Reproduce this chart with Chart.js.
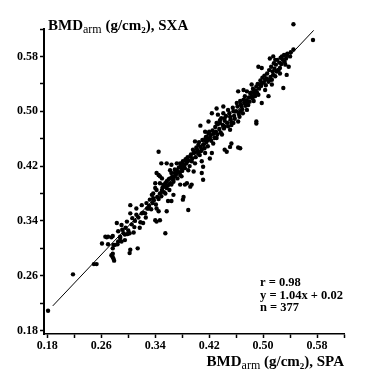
<!DOCTYPE html>
<html>
<head>
<meta charset="utf-8">
<script src="https://cdn.jsdelivr.net/npm/chart.js@4"></script>
<style>
  body { margin: 0; background: #fff; }
  canvas { display: block; }
</style>
</head>
<body>
<canvas id="bmd" width="365" height="384"></canvas>
<script>
(() => {

//----- Data -----//

    // BMD arm measured by SPA (x) and by SXA (y), g/cm2
    var spaArm = [
        0.181, 0.218, 0.249, 0.253, 0.261, 0.266, 0.268, 0.270, 0.270, 0.275,
        0.277, 0.278, 0.277, 0.275, 0.277, 0.277, 0.279, 0.278, 0.280, 0.284,
        0.285, 0.288, 0.288, 0.290, 0.283, 0.290, 0.293, 0.295, 0.295, 0.299,
        0.302, 0.302, 0.303, 0.308, 0.314, 0.303, 0.303, 0.312, 0.320, 0.322,
        0.320, 0.325, 0.330, 0.327, 0.332, 0.335, 0.337, 0.342, 0.345, 0.340,
        0.342, 0.347, 0.357, 0.355, 0.359, 0.364, 0.347, 0.350, 0.345, 0.350,
        0.340, 0.337, 0.352, 0.355, 0.361, 0.364, 0.369, 0.372, 0.379, 0.377,
        0.381, 0.389, 0.364, 0.367, 0.384, 0.382, 0.392, 0.345, 0.349, 0.357,
        0.364, 0.362, 0.372, 0.377, 0.379, 0.372, 0.369, 0.377, 0.384, 0.389,
        0.397, 0.342, 0.347, 0.362, 0.367, 0.355, 0.340, 0.342, 0.350, 0.357,
        0.387, 0.394, 0.382, 0.387, 0.394, 0.392, 0.399, 0.397, 0.402, 0.404,
        0.406, 0.409, 0.409, 0.411, 0.409, 0.411, 0.414, 0.414, 0.419, 0.421,
        0.424, 0.421, 0.426, 0.431, 0.436, 0.439, 0.443, 0.451, 0.456, 0.463,
        0.453, 0.451, 0.466, 0.443, 0.446, 0.407, 0.490, 0.399, 0.414, 0.416,
        0.411, 0.431, 0.436, 0.433, 0.441, 0.443, 0.451, 0.448, 0.456, 0.453,
        0.466, 0.461, 0.466, 0.471, 0.473, 0.481, 0.476, 0.483, 0.488, 0.486,
        0.493, 0.498, 0.508, 0.503, 0.490, 0.498, 0.503, 0.510, 0.513, 0.518,
        0.525, 0.530, 0.463, 0.471, 0.483, 0.490, 0.468, 0.476, 0.478, 0.441,
        0.431, 0.424, 0.419, 0.545, 0.574, 0.540, 0.535, 0.528, 0.515, 0.518,
        0.510, 0.493, 0.498, 0.533, 0.538, 0.525, 0.520, 0.535, 0.515, 0.513,
        0.505, 0.495, 0.486, 0.463,
        0.305, 0.310, 0.315, 0.318, 0.322, 0.326, 0.328, 0.331, 0.334, 0.336,
        0.338, 0.341, 0.343, 0.345, 0.347, 0.349, 0.351, 0.353, 0.355, 0.357,
        0.359, 0.360, 0.362, 0.365, 0.367, 0.369, 0.371, 0.373, 0.375, 0.376,
        0.378, 0.380, 0.381, 0.383, 0.385, 0.386, 0.388, 0.390, 0.391, 0.393,
        0.395, 0.396, 0.398, 0.400, 0.401, 0.403, 0.404, 0.405, 0.407, 0.408,
        0.410, 0.412, 0.413, 0.415, 0.416, 0.418, 0.419, 0.420, 0.422, 0.423,
        0.425, 0.426, 0.428, 0.429, 0.430, 0.432, 0.433, 0.435, 0.437, 0.438,
        0.440, 0.442, 0.443, 0.445, 0.447, 0.448, 0.450, 0.452, 0.453, 0.455,
        0.457, 0.458, 0.460, 0.462, 0.464, 0.465, 0.467, 0.469, 0.470, 0.472,
        0.474, 0.475, 0.477, 0.479, 0.480, 0.482, 0.484, 0.485, 0.487, 0.489,
        0.491, 0.492, 0.494, 0.496, 0.497, 0.499, 0.501, 0.502, 0.504, 0.506,
        0.508, 0.509, 0.511, 0.512, 0.514, 0.516, 0.517, 0.519, 0.521, 0.523,
        0.524, 0.526, 0.527, 0.529, 0.531, 0.532, 0.534, 0.536, 0.541, 0.545,
        0.285, 0.291, 0.296, 0.300, 0.298, 0.306, 0.309, 0.312, 0.317
    ]
    var sxaArm = [
        0.209, 0.262, 0.277, 0.277, 0.307, 0.317, 0.316, 0.317, 0.306, 0.316,
        0.318, 0.305, 0.300, 0.290, 0.292, 0.287, 0.282, 0.285, 0.305, 0.306,
        0.310, 0.317, 0.315, 0.310, 0.337, 0.334, 0.322, 0.320, 0.312, 0.321,
        0.322, 0.293, 0.298, 0.323, 0.300, 0.351, 0.363, 0.358, 0.363, 0.337,
        0.351, 0.351, 0.358, 0.366, 0.371, 0.378, 0.373, 0.358, 0.354, 0.341,
        0.339, 0.341, 0.354, 0.322, 0.369, 0.369, 0.395, 0.385, 0.407, 0.402,
        0.388, 0.380, 0.393, 0.380, 0.385, 0.410, 0.405, 0.412, 0.405, 0.393,
        0.371, 0.356, 0.393, 0.378, 0.393, 0.375, 0.390, 0.441, 0.424, 0.424,
        0.422, 0.414, 0.424, 0.424, 0.417, 0.414, 0.410, 0.407, 0.417, 0.414,
        0.412, 0.410, 0.405, 0.402, 0.397, 0.395, 0.395, 0.385, 0.383, 0.388,
        0.395, 0.393, 0.422, 0.427, 0.427, 0.434, 0.424, 0.439, 0.444, 0.451,
        0.436, 0.444, 0.427, 0.419, 0.410, 0.400, 0.439, 0.458, 0.468, 0.461,
        0.439, 0.431, 0.453, 0.461, 0.483, 0.466, 0.478, 0.473, 0.483, 0.485,
        0.453, 0.448, 0.446, 0.444, 0.441, 0.479, 0.482, 0.456, 0.470, 0.463,
        0.451, 0.483, 0.487, 0.495, 0.497, 0.490, 0.492, 0.502, 0.500, 0.480,
        0.500, 0.512, 0.515, 0.517, 0.522, 0.526, 0.529, 0.522, 0.522, 0.515,
        0.524, 0.512, 0.522, 0.531, 0.536, 0.541, 0.546, 0.546, 0.539, 0.551,
        0.555, 0.534, 0.529, 0.531, 0.539, 0.485, 0.507, 0.502, 0.509, 0.507,
        0.504, 0.497, 0.485, 0.627, 0.604, 0.580, 0.582, 0.580, 0.580, 0.575,
        0.577, 0.565, 0.563, 0.568, 0.565, 0.563, 0.558, 0.553, 0.553, 0.546,
        0.548, 0.539, 0.531, 0.447,
        0.335, 0.340, 0.345, 0.338, 0.352, 0.345, 0.358, 0.362, 0.357, 0.366,
        0.370, 0.364, 0.375, 0.372, 0.380, 0.376, 0.389, 0.382, 0.390, 0.398,
        0.392, 0.401, 0.395, 0.404, 0.400, 0.415, 0.408, 0.402, 0.418, 0.411,
        0.420, 0.413, 0.427, 0.421, 0.430, 0.424, 0.433, 0.428, 0.420, 0.437,
        0.431, 0.444, 0.440, 0.433, 0.447, 0.441, 0.438, 0.455, 0.448, 0.442,
        0.458, 0.452, 0.446, 0.462, 0.455, 0.449, 0.459, 0.470, 0.465, 0.457,
        0.472, 0.467, 0.461, 0.477, 0.470, 0.466, 0.481, 0.474, 0.469, 0.490,
        0.480, 0.475, 0.486, 0.493, 0.483, 0.478, 0.497, 0.488, 0.484, 0.505,
        0.493, 0.489, 0.500, 0.507, 0.496, 0.492, 0.510, 0.503, 0.497, 0.513,
        0.508, 0.516, 0.512, 0.520, 0.514, 0.527, 0.519, 0.533, 0.526, 0.530,
        0.527, 0.540, 0.533, 0.545, 0.537, 0.549, 0.542, 0.552, 0.538, 0.555,
        0.543, 0.560, 0.550, 0.565, 0.558, 0.570, 0.562, 0.568, 0.575, 0.560,
        0.571, 0.578, 0.569, 0.575, 0.582, 0.572, 0.577, 0.584, 0.586, 0.590,
        0.325, 0.327, 0.330, 0.326, 0.339, 0.344, 0.331, 0.349, 0.330
    ]

    // regression line y = 1.04x + 0.02, end points as drawn
    var fitX = [0.188, 0.575]
    var fitY = [0.216, 0.618]

    var tickValues = [0.18, 0.22, 0.26, 0.30, 0.34, 0.38, 0.42, 0.46, 0.50, 0.54, 0.58, 0.62]
    var tickLabels = ['0.18', '0.26', '0.34', '0.42', '0.50', '0.58']

    var statLines = ['r = 0.98', 'y = 1.04x + 0.02', 'n = 377']

//----- Helpers -----//

    var serif = '"Liberation Serif", "DejaVu Serif", serif'

    function toPoints(xs, ys) {
        return xs.map((x, i) => ({ x: x, y: ys[i] }))
    }

    function tickCallback(value) {
        var s = Number(value).toFixed(2)
        return tickLabels.includes(s) ? s : ''
    }

    function fixTicks(axis) {
        axis.ticks = tickValues.map((v) => ({ value: v }))
    }

    // draws a title with subscripts, piece by piece
    function drawRich(ctx, parts, x, y, align) {
        var total = 0
        parts.forEach((p) => {
            ctx.font = p.f
            total += ctx.measureText(p.t).width
        })
        var cx = align === 'right' ? x - total : x
        ctx.textAlign = 'left'
        ctx.textBaseline = 'alphabetic'
        parts.forEach((p) => {
            ctx.font = p.f
            ctx.fillText(p.t, cx, y + (p.dy || 0))
            cx += ctx.measureText(p.t).width
        })
    }

    function axisTitle(end) {
        return [
            { t: 'BMD', f: 'bold 15px ' + serif },
            { t: 'arm', f: '12px ' + serif, dy: 3 },
            { t: ' (g/cm', f: 'bold 15px ' + serif },
            { t: '2', f: 'bold 9px ' + serif, dy: 3 },
            { t: '), ' + end, f: 'bold 15px ' + serif }
        ]
    }

    var textPlugin = {
        id: 'bmdText',
        // let the one point above the top of the axis still be drawn
        beforeDatasetsDraw(chart) {
            chart.chartArea.top -= 12
        },
        afterDatasetsDraw(chart) {
            chart.chartArea.top += 12
        },
        afterDraw(chart) {
            var ctx = chart.ctx
            ctx.save()
            ctx.fillStyle = '#000'
            drawRich(ctx, axisTitle('SXA'), 48, 30, 'left')
            drawRich(ctx, axisTitle('SPA'), 344, 366, 'right')
            ctx.font = 'bold 12.5px ' + serif
            statLines.forEach((s, i) => ctx.fillText(s, 260, 286 + i * 12.5))
            ctx.restore()
        }
    }

//----- Create Chart -----//

    var axisFont = { family: serif, size: 12, weight: 'bold' }

    new Chart(document.getElementById('bmd'), {
        type: 'scatter',
        data: {
            datasets: [{
                data: toPoints(spaArm, sxaArm),
                pointRadius: 2.2,
                pointBackgroundColor: '#000',
                pointBorderWidth: 0,
                clip: false
            }, {
                data: toPoints(fitX, fitY),
                showLine: true,
                borderColor: '#000',
                borderWidth: 1,
                pointRadius: 0
            }]
        },
        options: {
            responsive: false,
            animation: false,
            layout: { padding: { top: 29, right: 21, bottom: 0, left: 0 } },
            plugins: {
                legend: { display: false },
                tooltip: { enabled: false }
            },
            scales: {
                x: {
                    type: 'linear',
                    min: 0.175,
                    max: 0.62,
                    afterBuildTicks: fixTicks,
                    afterFit: (s) => { s.height = 50 },
                    border: { display: true, color: '#000', width: 1.5 },
                    grid: { drawOnChartArea: false, color: '#000', tickLength: 4, tickWidth: 1.5 },
                    ticks: { color: '#000', font: axisFont, padding: 1, maxRotation: 0, autoSkip: false, callback: tickCallback }
                },
                y: {
                    type: 'linear',
                    min: 0.175,
                    max: 0.62,
                    afterBuildTicks: fixTicks,
                    afterFit: (s) => { s.width = 44 },
                    border: { display: true, color: '#000', width: 2 },
                    grid: { drawOnChartArea: false, color: '#000', tickLength: 4, tickWidth: 1.5 },
                    ticks: { color: '#000', font: axisFont, padding: 2, autoSkip: false, callback: tickCallback }
                }
            }
        },
        plugins: [textPlugin]
    })

})();
</script>
</body>
</html>
